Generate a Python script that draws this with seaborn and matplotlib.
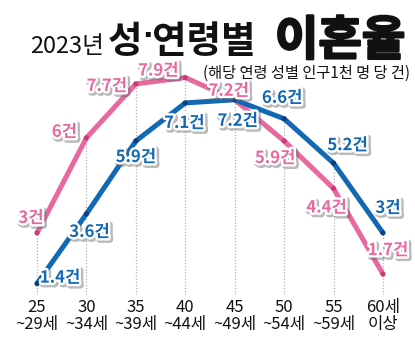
import matplotlib
matplotlib.use("Agg")
import matplotlib.pyplot as plt
import matplotlib.patheffects as pe
import seaborn as sns
import pandas as pd
import numpy as np

# ---- data ----
age_groups = ["25\n~29세", "30\n~34세", "35\n~39세", "40\n~44세", "45\n~49세", "50\n~54세", "55\n~59세", "60세\n이상"]
female = [3.0, 6.0, 7.7, 7.9, 7.2, 5.9, 4.4, 1.7]
male = [1.4, 3.6, 5.9, 7.1, 7.2, 6.6, 5.2, 3.0]
female_labels = ["3건", "6건", "7.7건", "7.9건", "7.2건", "5.9건", "4.4건", "1.7건"]
male_labels = ["1.4건", "3.6건", "5.9건", "7.1건", "7.2건", "6.6건", "5.2건", "3건"]
series_names = ["여성", "남성"]

# ---- style ----
sns.set_style("white")
plt.rcParams["font.family"] = ["Noto Sans CJK KR", "DejaVu Sans"]

PINK = "#E8699E"
PINK_DARK = "#C93B78"
BLUE = "#1268B3"
BLUE_DARK = "#0A3F80"

n = len(age_groups)
idx = list(range(n))
df = pd.DataFrame({
    "x": idx * 2,
    "v": female + male,
    "s": [series_names[0]] * n + [series_names[1]] * n,
})

fig = plt.figure(figsize=(4.15, 3.43), dpi=100)
W, H = 415, 343
ax_left, ax_right, ax_top, ax_bottom = 15, 405, 60, 295
ax = fig.add_axes([ax_left / W, 1 - ax_bottom / H, (ax_right - ax_left) / W, (ax_bottom - ax_top) / H])

px_per_unit_x = (383 - 37) / 7
xl = -(37 - ax_left) / px_per_unit_x
xr = 7 + (ax_right - 383) / px_per_unit_x
px_per_unit_y = 31.7
y0_px = 328
yb = (y0_px - ax_bottom) / px_per_unit_y
yt = (y0_px - ax_top) / px_per_unit_y
ax.set_xlim(xl, xr)
ax.set_ylim(yb, yt)

# dotted guide lines
tops = [max(a, b) for a, b in zip(female, male)]
ax.vlines(idx, yb, tops, colors="#b0b0b0", linestyles=(0, (1, 1.5)), linewidth=0.9, zorder=1)

sns.lineplot(data=df, x="x", y="v", hue="s", palette={series_names[0]: PINK, series_names[1]: BLUE},
             linewidth=3.6, legend=False, ax=ax, zorder=3, solid_capstyle="butt")
sns.scatterplot(data=df, x="x", y="v", hue="s", palette={series_names[0]: PINK_DARK, series_names[1]: BLUE_DARK},
                s=14, linewidth=0, legend=False, ax=ax, zorder=4)

# labels
f_off = [(-6, 15), (-22, 6), (-29, -2), (-27, 7), (-6, 9), (-9, -17), (-7, -19), (5, 24)]
m_off = [(23, 6), (3, -18), (0, -16), (-1, -20), (3, -21), (-2, 21), (14, 18), (5, 25)]
effects = [pe.Stroke(linewidth=4.5, foreground="#666666", alpha=0.45, offset=(1.2, -1.2)),
           pe.Stroke(linewidth=3.5, foreground="white"), pe.Normal()]
for i in idx:
    ax.annotate(female_labels[i], (i, female[i]), xytext=f_off[i], textcoords="offset pixels",
                ha="center", va="center", color=PINK, fontsize=12, fontweight="bold",
                path_effects=effects, zorder=6)
    ax.annotate(male_labels[i], (i, male[i]), xytext=m_off[i], textcoords="offset pixels",
                ha="center", va="center", color=BLUE, fontsize=12, fontweight="bold",
                path_effects=effects, zorder=6)

ax.set_xticks(idx)
ax.set_xticklabels(age_groups, fontsize=12, linespacing=1.0, color="#111111")
ax.tick_params(axis="x", length=0, pad=3)
ax.set_yticks([])
ax.set_xlabel("")
ax.set_ylabel("")
for sp in ax.spines.values():
    sp.set_visible(False)

# titles
base = 1 - 53 / H
fig.text(30 / W, base, "2023년", fontsize=17, color="#111111", va="baseline", ha="left")
fig.text(108 / W, base, "성", fontsize=27, fontweight="bold", color="#111111", va="baseline", ha="left")
fig.text(147 / W, 1 - 36 / H, "·", fontsize=20, fontweight="bold", color="#111111", va="center", ha="center",
         family=["DejaVu Sans"])
fig.text(152 / W, base, "연령별", fontsize=27, fontweight="bold", color="#111111", va="baseline", ha="left")
fig.text(275 / W, 1 - 55 / H, "이혼율", fontsize=34, fontweight="black", color="#111111", va="baseline", ha="left",
         path_effects=[pe.withStroke(linewidth=1.6, foreground="#111111")])
fig.text(410 / W, 1 - 73 / H, "(해당 연령 성별 인구1천 명 당 건)", fontsize=11, color="#111111", va="center", ha="right")

fig.savefig("out.png", dpi=100)
